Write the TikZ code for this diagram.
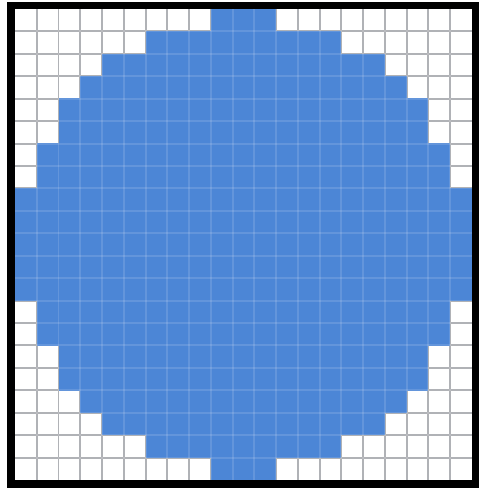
\documentclass[tikz,border=0pt]{standalone}
\usepackage{tikz}
\definecolor{cellblue}{RGB}{76,134,214}
\definecolor{gridgray}{RGB}{165,167,172}
\tikzset{
  sheet/.style={fill=white},
  gridline/.style={draw=gridgray, line width=1.1pt},
  faintline/.style={draw=white, opacity=0.13, line width=1.1pt},
  disc/.style={fill=cellblue},
  rim/.style={draw=black, line width=4.3pt},
}
% cell size in px, origin of the grid
\def\cw{21.76}
\def\ch{22.43}
\def\ox{15}
\def\oy{9}

\begin{document}
\begin{tikzpicture}[x=0.02cm, y=-0.02cm]
  \useasboundingbox (0,0) rectangle (479,493);
  \fill[sheet] (0,0) rectangle (479,493);

  % white cells with grey grid
  \foreach \i in {1,...,20} {
    \draw[gridline] (\ox+\i*\cw, \oy) -- (\ox+\i*\cw, \oy+21*\ch);
    \draw[gridline] (\ox, \oy+\i*\ch) -- (\ox+21*\cw, \oy+\i*\ch);
  }

  % blue disc, one run of cells per row (white cells at each end)
  \foreach \w [count=\r from 0] in {9,6,4,3,2,2,1,1,0,0,0,0,0,1,1,2,2,3,4,6,9} {
    \fill[disc] (\ox+\w*\cw, \oy+\r*\ch-0.3) rectangle (\ox+21*\cw-\w*\cw, \oy+\r*\ch+\ch+0.3);
  }

  % grid showing faintly through the blue
  \foreach \i in {1,...,20} {
    \draw[faintline] (\ox+\i*\cw, \oy) -- (\ox+\i*\cw, \oy+21*\ch);
    \draw[faintline] (\ox, \oy+\i*\ch) -- (\ox+21*\cw, \oy+\i*\ch);
  }

  % frame
  \draw[rim] (11,5.5) rectangle (475.5,484);
\end{tikzpicture}
\end{document}
